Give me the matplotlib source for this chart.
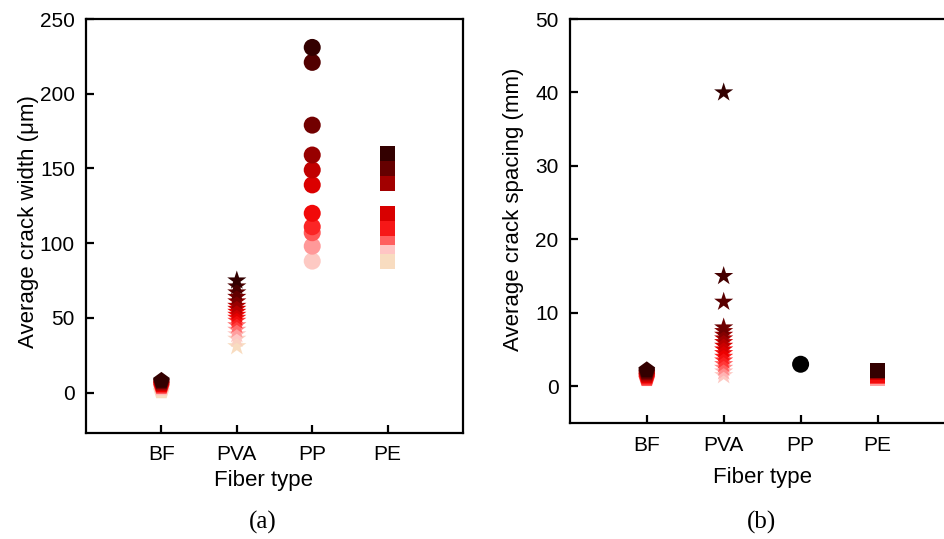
import matplotlib
matplotlib.use("Agg")
import matplotlib.pyplot as plt
from matplotlib.colors import LinearSegmentedColormap

plt.rcParams['font.family'] = ['Liberation Sans', 'DejaVu Sans']

# fiber types and x positions
fibers = ["BF", "PVA", "PP", "PE"]
xpos = [1, 2, 3, 4]

# (a) average crack width (um)
w_bf = [8, 7, 6, 5, 4, 3, 1]
w_pva = [75, 71, 67, 64, 61, 58, 56, 54, 52, 50, 48, 45, 42, 39, 36, 31]
w_pp = [231, 221, 179, 159, 149, 139, 120, 111, 107, 98, 88]
w_pe = [160, 150, 140, 120, 110, 104, 98, 88]

# (b) average crack spacing (mm)
s_bf = [2.2, 2.0, 1.8, 1.6, 1.4, 1.2, 1.0]
s_pva = [40, 15, 11.5, 8, 7.5, 7, 6.5, 6, 5.5, 5, 4.5, 4, 3.5, 3, 2.5, 2, 1.5]
s_pp = [3.0]
s_pe = [2.2, 2.1, 2.0, 1.9, 1.5, 1.3, 1.1]

# light beige -> pink -> red -> dark brown
cmap = LinearSegmentedColormap.from_list(
    "crack", [(0.0, "#f8dcc0"), (0.15, "#ffc4c4"), (0.35, "#ff3030"),
              (0.5, "#ee0000"), (0.65, "#c00000"), (0.8, "#7a0000"),
              (1.0, "#330000")])

sizes = {"p": 160, "*": 210, "o": 150, "s": 115}


def draw(ax, x, vals, marker, start=0.0, single_color=None):
    vals = sorted(vals)  # lightest first, darkest on top
    n = len(vals)
    for i, v in enumerate(vals):
        if single_color is not None:
            c = single_color
        else:
            c = cmap(start + (1 - start) * i / (n - 1)) if n > 1 else cmap(1.0)
        ax.scatter([x], [v], marker=marker, s=sizes[marker], color=c,
                   edgecolors="none", zorder=3)


def style(ax, pad):
    for sp in ax.spines.values():
        sp.set_linewidth(1.6)
    ax.tick_params(direction="in", length=6, width=1.6, labelsize=15,
                   top=False, right=False)
    ax.tick_params(axis="y", pad=8)
    ax.tick_params(axis="x", pad=pad)
    ax.set_xticks(xpos)
    ax.set_xticklabels(fibers)
    ax.set_xlim(0, 5)


fig = plt.figure(figsize=(9.45, 5.39), dpi=100)

ax1 = fig.add_axes([0.091, 0.1967, 0.399, 0.768])
draw(ax1, 1, w_bf, "p")
draw(ax1, 2, w_pva, "*")
draw(ax1, 3, w_pp, "o", start=0.12)
draw(ax1, 4, w_pe, "s")
style(ax1, 9)
ax1.set_ylim(-27, 250)
ax1.set_yticks([0, 50, 100, 150, 200, 250])
ax1.set_ylabel("Average crack width (\u03bcm)", fontsize=16)
ax1.yaxis.set_label_coords(-0.125, 0.51)
ax1.set_xlabel("Fiber type", fontsize=16)
ax1.xaxis.set_label_coords(0.47, -0.09)

ax2 = fig.add_axes([0.603, 0.2152, 0.407, 0.7495])
draw(ax2, 1, s_bf, "p", start=0.3)
draw(ax2, 2, s_pva, "*", start=0.12)
draw(ax2, 3, s_pp, "o", single_color="black")
draw(ax2, 4, s_pe, "s", start=0.2)
style(ax2, 9)
ax2.set_ylim(-5, 50)
ax2.set_yticks([0, 10, 20, 30, 40, 50])
ax2.set_ylabel("Average crack spacing (mm)", fontsize=16)
ax2.yaxis.set_label_coords(-0.12, 0.53)
ax2.set_xlabel("Fiber type", fontsize=16)
ax2.xaxis.set_label_coords(0.5, -0.11)

fig.text(263 / 945, 1 - 522 / 539, "(a)", fontsize=18, family="Liberation Serif",
         ha="center", va="center")
fig.text(762 / 945, 1 - 522 / 539, "(b)", fontsize=18, family="Liberation Serif",
         ha="center", va="center")

fig.savefig("out.png", dpi=100)
